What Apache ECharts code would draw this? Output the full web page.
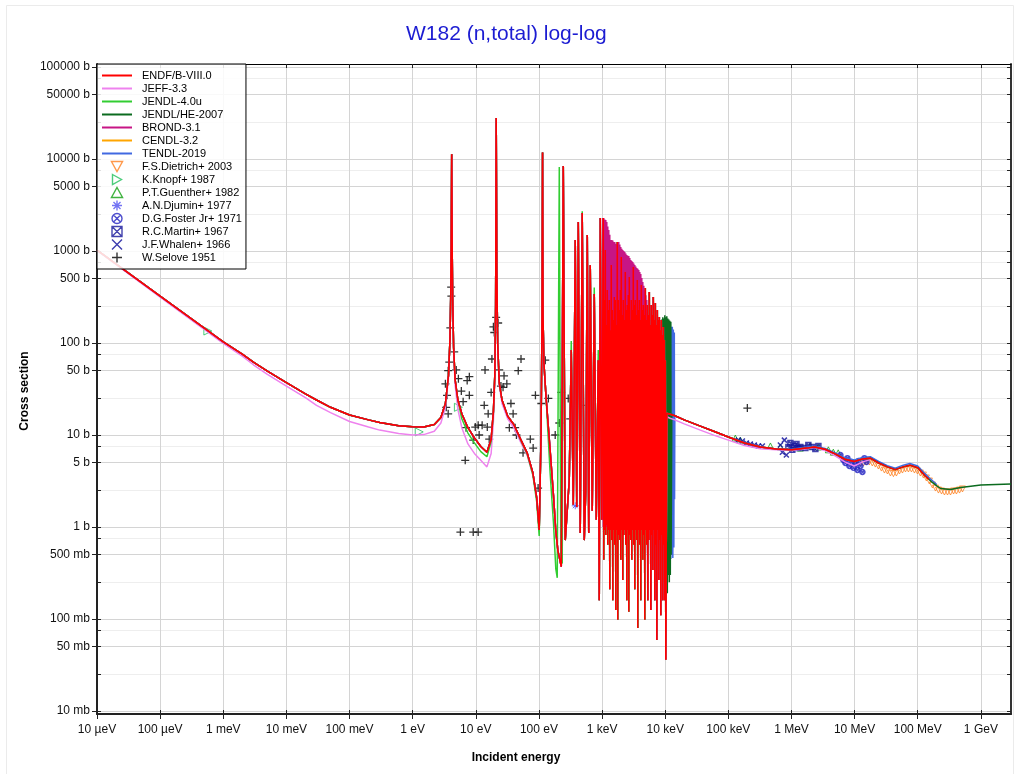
<!DOCTYPE html>
<html>
<head>
<meta charset="utf-8">
<title>W182 (n,total) log-log</title>
<script src="https://cdn.jsdelivr.net/npm/echarts@6.0.0/dist/echarts.min.js"></script>
<style>
  html, body { margin: 0; padding: 0; background: #fff; }
  #chart { width: 1020px; height: 774px; }
</style>
</head>
<body>
<div id="chart"></div>
<script>
// energies in eV, cross sections in barns

// tick labels
const xTickEnergy = [1e-5, 1e-4, 1e-3, 1e-2, 0.1, 1, 10, 100, 1e3, 1e4, 1e5, 1e6, 1e7, 1e8, 1e9];
const xTickText = ['10 µeV', '100 µeV', '1 meV', '10 meV', '100 meV', '1 eV', '10 eV', '100 eV',
    '1 keV', '10 keV', '100 keV', '1 MeV', '10 MeV', '100 MeV', '1 GeV'];
const yTickXS = [0.01, 0.05, 0.1, 0.5, 1, 5, 10, 50, 100, 500, 1000, 5000, 10000, 50000, 100000];
const yTickText = ['10 mb', '50 mb', '100 mb', '500 mb', '1 b', '5 b', '10 b', '50 b', '100 b',
    '500 b', '1000 b', '5000 b', '10000 b', '50000 b', '100000 b'];
const yMinorXS = [0.025, 0.075, 0.25, 0.75, 2.5, 7.5, 25, 75, 250, 750, 2500, 7500, 25000, 75000];

// thermal + first resolved resonances (shared energy grid)
const lowE = [1e-5, 1e-4, 1e-3, 0.002, 0.003, 0.005, 0.01, 0.02, 0.03, 0.05, 0.1, 0.2, 0.3, 0.6, 1, 1.5,
    2.2, 2.8, 3.3, 3.7, 3.9, 4.0, 4.08, 4.15, 4.22, 4.3, 4.45, 4.7, 5.2, 6, 7.5, 9.5, 12, 15, 17.5, 19,
    20, 20.6, 21.06, 21.5, 22.2, 23.5, 26, 32, 40, 52, 65, 80, 92, 101, 108, 112, 114.1, 116, 120, 130,
    150, 170, 185];
const lowEndf = [1025, 324, 103, 75.5, 62, 49.5, 37, 28, 24, 20, 16.5, 14.6, 13.7, 12.6, 12.3, 12.2,
    13, 15.5, 22, 45, 110, 300, 1200, 11300, 1200, 300, 90, 40, 24, 17, 12, 9.3, 7.5, 6.5, 9, 18,
    45, 250, 27900, 600, 100, 37, 24, 16, 13, 8.8, 6.4, 3.9, 2.1, 0.93, 10, 200, 11800, 200, 60, 25,
    7, 2.2, 0.9];
const lowJeff = [1010, 316, 99, 72, 58, 45.5, 34, 25.5, 21, 17.5, 14, 12.2, 11.3, 10.4, 10, 10.1,
    11, 13.5, 20, 42, 105, 290, 1200, 11000, 1200, 290, 85, 35, 19, 12, 8, 6.3, 5.3, 4.5, 6.3, 14,
    40, 240, 27500, 580, 95, 35, 22, 15, 12, 8.2, 6, 3.7, 2.1, 1.0, 10, 200, 11500, 200, 60, 25,
    7, 2.2, 0.9];
const lowJendl = [1025, 324, 103, 75.5, 62, 49.5, 37, 28, 24, 20, 16.5, 14.6, 13.7, 12.6, 12.3, 12.2,
    13, 15.5, 22, 45, 110, 300, 1200, 11300, 1200, 300, 90, 40, 24, 15, 10.5, 8.2, 6.6, 5.8, 8.5, 17,
    44, 250, 27900, 600, 100, 37, 24, 16, 13, 8.6, 6.2, 3.7, 1.9, 0.8, 10, 200, 11800, 200, 60, 25,
    4, 1.1, 0.35];

// resonance forest, [E, xs] pairs
const forestA = [[200, 0.55], [226, 0.37], [243, 8400], [261, 0.72], [302, 3.2], [325, 84], [350, 1.75],
    [376, 1320], [397, 1.65], [420, 2070], [451, 0.86], [485, 2590], [522, 0.72], [552, 2.5],
    [583, 1490], [615, 0.86], [650, 700], [699, 1.5], [752, 340], [809, 1.2], [870, 65], [903, 0.16]];
const forestAJendl = [[195, 0.28], [210, 8200], [222, 0.45], [234, 0.4], [243, 8400], [261, 0.72],
    [302, 3.2], [325, 105], [350, 1.75], [376, 1320], [397, 1.65], [420, 2070], [451, 0.86], [485, 2700],
    [522, 0.72], [552, 2.5], [583, 1490], [615, 0.86], [650, 700], [699, 1.5], [752, 400], [809, 1.2],
    [870, 84], [903, 0.16]];
const forestB = [[937, 2290], [989, 1.2],
    [1045, 2290], [1064, 0.44], [1083, 293], [1103, 0.93], [1124, 1026], [1145, 0.82],
    [1166, 157], [1187, 1.05], [1209, 377], [1231, 0.64], [1254, 228], [1277, 0.93],
    [1300, 293], [1324, 0.21], [1349, 138], [1374, 0.93], [1399, 704], [1425, 0.72],
    [1451, 228], [1478, 0.16], [1505, 178], [1533, 0.93], [1561, 316], [1590, 0.64],
    [1619, 293], [1649, 0.125], [1679, 157], [1710, 0.93], [1741, 1253], [1773, 0.098],
    [1806, 293], [1839, 0.82], [1873, 228], [1908, 0.72], [1943, 377], [1979, 0.44],
    [2015, 860], [2052, 0.93], [2090, 201], [2128, 0.265], [2168, 293], [2208, 0.82],
    [2248, 178], [2289, 0.93], [2332, 591], [2375, 0.64], [2419, 228], [2464, 0.16],
    [2508, 259], [2554, 0.93], [2602, 332], [2650, 0.12], [2698, 522], [2748, 0.82],
    [2799, 178], [2851, 0.72], [2903, 293], [2956, 0.44], [3011, 228], [3066, 0.93],
    [3122, 670], [3180, 0.64], [3238, 259], [3298, 0.21], [3359, 293], [3421, 0.93],
    [3484, 201], [3548, 0.72], [3613, 484], [3680, 0.08], [3748, 228], [3817, 0.93],
    [3887, 293], [3959, 0.64], [4031, 178], [4105, 0.16], [4181, 427], [4258, 0.93],
    [4337, 228], [4417, 0.44], [4498, 259], [4581, 0.82], [4665, 201], [4751, 0.098],
    [4838, 396], [4927, 0.93], [5018, 178], [5110, 0.64], [5205, 259], [5301, 0.16],
    [5398, 201], [5497, 0.72], [5599, 358], [5702, 0.93], [5807, 157], [5914, 0.125],
    [6023, 259], [6134, 0.82], [6247, 201], [6362, 0.34], [6479, 316], [6598, 0.93],
    [6720, 178], [6844, 0.16], [6970, 272], [7098, 0.64], [7229, 157], [7362, 0.059],
    [7498, 228], [7636, 0.93], [7776, 178], [7919, 0.265], [8065, 192], [8214, 0.72],
    [8365, 138], [8519, 0.11], [8676, 178], [8836, 0.82], [8999, 122], [9165, 0.16],
    [9334, 149], [9506, 0.64], [9681, 108], [9859, 0.16], [10040, 65], [10220, 0.036]];
const forestBrond = [[1026, 2290], [1045, 1.0], [1064, 2290], [1083, 1.0], [1103, 2200], [1124, 1.0],
    [1145, 2170], [1166, 1.0], [1187, 2070], [1209, 1.0], [1231, 1850], [1254, 1.0], [1277, 1690],
    [1300, 1.0], [1324, 1500], [1349, 1.0], [1374, 1318], [1399, 1.0], [1425, 1318], [1451, 1.0],
    [1478, 1300], [1505, 1.0], [1533, 1253], [1561, 1.0], [1590, 1253], [1619, 1.0], [1649, 1200],
    [1679, 1.0], [1710, 1190], [1741, 1.0], [1773, 1220], [1806, 1.0], [1839, 1253], [1873, 1.0],
    [1908, 1180], [1943, 1.0], [1979, 1105], [2015, 1.0], [2052, 1060], [2090, 1.0], [2128, 1026],
    [2168, 1.0], [2208, 1000], [2248, 1.0], [2289, 975], [2332, 1.0], [2375, 940], [2419, 1.0],
    [2464, 905], [2508, 1.0], [2554, 890], [2602, 1.0], [2650, 880], [2698, 1.0], [2748, 840],
    [2799, 1.0], [2851, 798], [2903, 1.0], [2956, 780], [3011, 1.0], [3066, 760], [3122, 1.0],
    [3180, 730], [3238, 1.0], [3298, 704], [3359, 1.0], [3421, 680], [3484, 1.0], [3548, 654],
    [3613, 1.0], [3680, 640], [3748, 1.0], [3817, 622], [3887, 1.0], [3959, 590], [4031, 1.0],
    [4105, 562], [4181, 1.0], [4258, 510], [4337, 1.0], [4417, 460], [4498, 1.0], [4581, 420],
    [4665, 1.0], [4751, 377], [4838, 1.0], [4927, 330], [5018, 1.0], [5110, 293], [5205, 1.0]];
const forestHe = [[8365, 0.3], [8519, 170], [8676, 0.4], [8836, 180], [8999, 0.3], [9165, 190],
    [9334, 0.25], [9506, 185], [9681, 0.3], [9859, 200], [10040, 0.35], [10220, 190], [10410, 0.25],
    [10600, 195], [10800, 0.19], [11000, 185], [11200, 0.3], [11410, 180], [11620, 0.25], [11830, 175],
    [12050, 0.3], [12270, 170], [12400, 0.5], [12700, 16.8]];
const forestTendl = [[10040, 0.5], [10410, 160], [10800, 0.3], [11200, 170], [11620, 0.4], [12050, 160],
    [12270, 0.45], [12500, 150], [12730, 0.5], [12960, 150], [13200, 0.46], [13440, 140], [13700, 0.6],
    [13940, 130], [14070, 2], [14200, 16.2]];

// fast region (shared energy grid)
const highE = [10600, 12000, 14200, 20000, 36000, 60000, 1e5, 1.8e5, 3.2e5, 5.7e5, 1e6, 1.75e6, 2.3e6,
    3.4e6, 5e6, 7e6, 9.9e6, 1.34e7, 1.77e7, 2.4e7, 3.3e7, 4.4e7, 5.9e7, 7.5e7, 1e8, 1.3e8, 1.5e8,
    1.7e8, 2e8, 2.3e8, 3.3e8, 4.8e8, 1e9, 3e9];
const highXS = [17.3, 16.8, 16.2, 14.6, 12.5, 10.9, 9.5, 8.2, 7.4, 7.05, 6.9, 7.2, 7.4, 7.0, 6.2, 5.45,
    5.15, 5.5, 5.6, 4.96, 4.5, 4.2, 4.5, 4.7, 4.4, 3.6, 3.3, 3.05, 2.8, 2.62, 2.55, 2.68, 2.86, 2.93];
const highJeff = [15.8, 15.2, 14.6, 13.2, 11.3, 9.9, 8.8, 7.7, 7.1, 6.9, 6.8, 7.1, 7.3, 6.8, 5.9, 5.1,
    4.6, 5.1, 5.4];
const highTendl = [17.3, 16.8, 16.2, 14.6, 12.5, 10.9, 9.5, 8.2, 7.4, 7.05, 7.0, 7.4, 7.6, 7.15, 6.35,
    5.65, 5.35, 5.7, 5.8, 5.15, 4.65, 4.35, 4.7, 4.9, 4.6, 3.8, 3.45, 3.2, 2.9];

// experimental points [E, xs]
const dietrich = [[12.4e6, 4.96], [13.8e6, 4.96], [15.4e6, 5.1], [17.1e6, 5.1], [19.1e6, 4.96],
    [21.3e6, 4.83], [23.8e6, 4.6], [26.6e6, 4.37], [29.7e6, 4.16], [33.1e6, 4.06], [36.9e6, 3.86],
    [41.2e6, 3.8], [45.9e6, 3.86], [51.3e6, 4.06], [57.2e6, 4.16], [63.9e6, 4.27], [71.2e6, 4.27],
    [79.5e6, 4.27], [88.7e6, 4.16], [99e6, 4.06], [110e6, 3.86], [123e6, 3.67], [137e6, 3.41],
    [153e6, 3.16], [171e6, 2.86], [191e6, 2.65], [213e6, 2.52], [238e6, 2.46], [265e6, 2.4],
    [296e6, 2.4], [330e6, 2.4], [369e6, 2.46], [410e6, 2.46], [459e6, 2.52], [511e6, 2.59]];
const knopf = [[5.7e-4, 135], [1.27, 10.8], [5.3, 20]];
const guenther = [[1.29e5, 9.25], [1.55e5, 8.8], [4.64e5, 7.6], [6.67e5, 7.4], [1.38e6, 7.2],
    [2.0e6, 7.6], [2.67e6, 7.4], [3.84e6, 6.9], [4.6e6, 6.5], [5.5e6, 6.4]];
const djumin = [[376, 1.7]];
const foster = [[5.96e6, 6.06], [6.64e6, 5.35], [7.15e6, 4.96], [7.69e6, 5.6], [8.27e6, 4.6], [8.9e6, 5.1],
    [9.57e6, 4.4], [10.3e6, 4.83], [11.1e6, 4.16], [11.5e6, 5.2], [12.4e6, 4.6], [13.3e6, 3.96],
    [14.3e6, 5.6], [15.4e6, 5.1]];
const martin = [[8.93e5, 7.4], [9.61e5, 8.2], [1.03e6, 6.9], [1.11e6, 7.6], [1.2e6, 8.0], [1.29e6, 7.2],
    [1.38e6, 7.4], [1.66e6, 7.2], [1.85e6, 7.8], [2.14e6, 7.4], [2.39e6, 7.05], [2.67e6, 7.6]];
const whalen = [[1.44e5, 8.8], [1.67e5, 8.6], [1.93e5, 8.18], [2.23e5, 8.0], [2.58e5, 7.8], [2.99e5, 7.6],
    [3.46e5, 7.6], [6.67e5, 7.8], [7.18e5, 6.5], [7.72e5, 8.8], [8.3e5, 6.06]];
const selove = [[4.07, 406], [4.1, 324], [3.95, 146], [4.55, 80], [3.8, 62], [3.65, 50], [4.9, 51],
    [3.3, 36], [5.3, 41], [7.9, 43], [7.3, 39], [5.9, 30], [7.9, 27], [3.5, 27], [6.3, 23], [3.4, 20],
    [3.65, 17], [14, 51], [18, 67], [13.6, 21], [17.5, 29], [15.7, 17], [7.0, 12], [9.8, 12.2],
    [10.9, 12.8], [12.6, 12.8], [15.2, 12.2], [11.3, 10], [9.1, 8.8], [16.3, 9.0], [6.8, 5.3],
    [5.7, 0.88], [9.1, 0.88], [10.9, 0.88], [21, 190], [19, 150], [22.6, 165], [19.6, 130], [23.5, 51],
    [28, 44], [25, 34], [27, 33], [31, 36], [36, 22], [39, 17], [52, 67], [47, 50], [34, 12], [42, 12],
    [44, 10], [73, 9], [81, 7.2], [56, 6.4], [88, 27], [109, 22], [141, 25], [126, 65], [210, 13.5],
    [181, 10], [226, 29], [291, 25], [97, 2.65], [504, 21], [627, 20.6], [313, 15], [2.0e5, 19.6]];

const FONT = '"Liberation Sans", Arial, sans-serif';
const LINE_ICON = 'path://M0,0 L30,0 L30,2 L0,2 Z';

const pair = (E, XS) => XS.map((s, i) => [E[i], s]);
const above = (pts, e) => pts.filter(p => p[0] > e);
const upTo = (pts, e) => pts.filter(p => p[0] <= e);
const below = (pts, e) => pts.filter(p => p[0] < e);
const toLog = pts => pts.map(p => [Math.log10(p[0]), Math.log10(p[1])]);

const fast = pair(highE, highXS);

const libraries = [
    // drawn bottom to top
    { name: 'CENDL-3.2', color: '#ffa500',
      data: [...pair(lowE, lowEndf), ...forestA, ...forestB, ...upTo(above(fast, 10220), 2e7)] },
    { name: 'TENDL-2019', color: '#4169e1',
      data: [...pair(lowE, lowEndf), ...forestA, ...below(forestB, 10040), ...forestTendl,
             ...above(pair(highE, highTendl), 14200)] },
    { name: 'JENDL/HE-2007', color: '#0b6b1f',
      data: [...pair(lowE, lowEndf), ...forestA, ...below(forestB, 8365), ...forestHe, ...above(fast, 12700)] },
    { name: 'JEFF-3.3', color: '#ee82ee',
      data: [...pair(lowE, lowJeff), ...forestA, ...forestB, ...above(pair(highE, highJeff), 10220)] },
    { name: 'JENDL-4.0u', color: '#32cd32',
      data: [...pair(lowE, lowJendl), ...forestAJendl, ...forestB, ...upTo(above(fast, 10220), 2e7)] },
    { name: 'BROND-3.1', color: '#c71585',
      data: [...pair(lowE, lowEndf), ...forestA, ...below(forestB, 1000), ...forestBrond,
             ...above(forestB, 5205), ...upTo(above(fast, 10220), 2e7)] },
    { name: 'ENDF/B-VIII.0', color: '#ff0000',
      data: [...pair(lowE, lowEndf), ...forestA, ...forestB, ...upTo(above(fast, 10220), 1.5e8)] }
];

const experiments = [
    { name: 'F.S.Dietrich+ 2003', color: '#ff7f1e', size: 6, width: 1, data: dietrich,
      symbol: 'path://M0,0 L10,0 L5,9 Z' },
    { name: 'K.Knopf+ 1987', color: '#1fbf5a', size: 8, width: 1, data: knopf,
      symbol: 'path://M0,0 L9,5 L0,10 Z' },
    { name: 'P.T.Guenther+ 1982', color: '#10a010', size: 6, width: 1, data: guenther,
      symbol: 'path://M5,0 L10,9 L0,9 Z' },
    { name: 'A.N.Djumin+ 1977', color: '#5050f0', size: 7, width: 1, data: djumin,
      symbol: 'path://M5,0 L5,10 M0,5 L10,5 M1.5,1.5 L8.5,8.5 M8.5,1.5 L1.5,8.5' },
    { name: 'D.G.Foster Jr+ 1971', color: '#2020c0', size: 5, width: 1.5, data: foster,
      symbol: 'path://M10,5 A5,5 0 1 1 0,5 A5,5 0 1 1 10,5 Z M1.5,1.5 L8.5,8.5 M8.5,1.5 L1.5,8.5' },
    { name: 'R.C.Martin+ 1967', color: '#14149a', size: 5, width: 1.5, data: martin,
      symbol: 'path://M0,0 L10,0 L10,10 L0,10 Z M0,0 L10,10 M10,0 L0,10' },
    { name: 'J.F.Whalen+ 1966', color: '#0a0a9a', size: 5, width: 1.5, data: whalen,
      symbol: 'path://M0,0 L10,10 M10,0 L0,10' },
    { name: 'W.Selove 1951', color: '#000000', size: 8, width: 1.3, data: selove,
      symbol: 'path://M5,0 L5,10 M0,5 L10,5' }
];

const legendItems = [
    ...['ENDF/B-VIII.0', 'JEFF-3.3', 'JENDL-4.0u', 'JENDL/HE-2007', 'BROND-3.1', 'CENDL-3.2', 'TENDL-2019']
        .map(name => ({ name: name, icon: LINE_ICON })),
    ...experiments.map(e => ({
        name: e.name,
        itemStyle: { color: 'rgba(0,0,0,0)', borderColor: e.color, borderWidth: 1.4 }
    }))
];

const xTickLog = xTickEnergy.map(Math.log10);
const yTickLog = yTickXS.map(Math.log10);
const yMinorLog = yMinorXS.map(Math.log10);
const yAllLog = yTickLog.concat(yMinorLog);

function labeler(logs, texts) {
    return v => {
        const i = logs.findIndex(l => Math.abs(l - v) < 1e-6);
        return i < 0 ? '' : texts[i];
    };
}

const xMin = -5, xMax = Math.log10(3e9);
const yMin = -2.033, yMax = 5.033;

const chart = echarts.init(document.getElementById('chart'));

const hidden = { show: false };
const baseX = { type: 'value', min: xMin, max: xMax, gridIndex: 0 };
const baseY = { type: 'value', min: yMin, max: yMax, gridIndex: 0 };

const option = {
    animation: false,
    backgroundColor: '#ffffff',
    title: {
        text: 'W182 (n,total) log-log',
        left: 401, top: 19,
        textStyle: { color: '#1c1cd2', fontSize: 21, fontWeight: 'normal', fontFamily: FONT }
    },
    grid: { left: 97, right: 9, top: 64, bottom: 60, containLabel: false },
    legend: {
        data: legendItems,
        orient: 'vertical',
        left: 97, top: 64,
        padding: [5, 4, 5, 5],
        itemGap: 0,
        itemWidth: 30,
        itemHeight: 10,
        selectedMode: false,
        backgroundColor: 'rgba(255,255,255,0.85)',
        borderColor: '#000',
        borderWidth: 1,
        borderRadius: 0,
        textStyle: { fontSize: 11, lineHeight: 13, color: '#000', fontFamily: FONT, padding: [0, 0, 0, 5] }
    },
    xAxis: [
        Object.assign({}, baseX, {
            position: 'bottom',
            axisLine: { show: true, onZero: false, lineStyle: { color: '#222', width: 2 } },
            axisTick: { show: true, inside: false, length: 5, customValues: xTickLog, lineStyle: { color: '#222' } },
            axisLabel: { show: true, customValues: xTickLog, formatter: labeler(xTickLog, xTickText),
                fontSize: 12, color: '#111', margin: 10, fontFamily: FONT },
            splitLine: { show: true, lineStyle: { color: '#d4d4d4', width: 1 } }
        }),
        Object.assign({}, baseX, {
            position: 'bottom',
            axisLine: { show: false, onZero: false },
            axisTick: { show: true, inside: true, length: 4, customValues: xTickLog, lineStyle: { color: '#222' } },
            axisLabel: hidden, splitLine: hidden
        }),
        Object.assign({}, baseX, {
            position: 'top',
            axisLine: { show: true, onZero: false, lineStyle: { color: '#000', width: 1 } },
            axisTick: { show: true, inside: true, length: 4, customValues: xTickLog, lineStyle: { color: '#222' } },
            axisLabel: hidden, splitLine: hidden
        })
    ],
    yAxis: [
        Object.assign({}, baseY, {
            position: 'left',
            axisLine: { show: true, onZero: false, lineStyle: { color: '#222', width: 2 } },
            axisTick: { show: true, inside: false, length: 5, customValues: yTickLog, lineStyle: { color: '#222' } },
            axisLabel: { show: true, customValues: yTickLog, formatter: labeler(yTickLog, yTickText),
                fontSize: 12, color: '#111', margin: 7, fontFamily: FONT },
            splitLine: { show: true, lineStyle: { color: '#d4d4d4', width: 1 } }
        }),
        Object.assign({}, baseY, {
            position: 'left',
            axisLine: { show: false, onZero: false },
            axisTick: { show: true, inside: true, length: 4, customValues: yAllLog, lineStyle: { color: '#222' } },
            axisLabel: hidden, splitLine: hidden
        }),
        Object.assign({}, baseY, {
            position: 'right',
            axisLine: { show: true, onZero: false, lineStyle: { color: '#333', width: 2 } },
            axisTick: { show: true, inside: true, length: 4, customValues: yAllLog, lineStyle: { color: '#222' } },
            axisLabel: hidden, splitLine: hidden
        }),
        Object.assign({}, baseY, {
            position: 'left',
            axisLine: { show: false, onZero: false },
            axisTick: { show: false, customValues: yMinorLog },
            axisLabel: hidden,
            splitLine: { show: true, lineStyle: { color: '#eeeeee', width: 1 } }
        })
    ],
    graphic: [
        { type: 'rect', shape: { x: 6.5, y: 5.5, width: 1007, height: 780 },
          style: { fill: 'none', stroke: '#ebebeb', lineWidth: 1 }, silent: true },
        { type: 'text', x: 516, y: 758,
          style: { text: 'Incident energy', align: 'center', verticalAlign: 'middle',
                   font: 'bold 12px "Liberation Sans", Arial, sans-serif', fill: '#000' } },
        { type: 'text', x: 25, y: 391, rotation: Math.PI / 2,
          style: { text: 'Cross section', align: 'center', verticalAlign: 'middle',
                   font: 'bold 12px "Liberation Sans", Arial, sans-serif', fill: '#000' } }
    ],
    series: [
        ...libraries.map(lib => ({
            name: lib.name,
            type: 'line',
            xAxisIndex: 0, yAxisIndex: 0,
            data: toLog(lib.data),
            symbol: 'none',
            showSymbol: false,
            silent: true,
            lineStyle: { color: lib.color, width: 1.5 },
            itemStyle: { color: lib.color }
        })),
        ...experiments.map(ex => ({
            name: ex.name,
            type: 'scatter',
            xAxisIndex: 0, yAxisIndex: 0,
            data: toLog(ex.data),
            symbol: ex.symbol,
            symbolSize: ex.size,
            silent: true,
            itemStyle: { color: 'rgba(0,0,0,0)', borderColor: ex.color, borderWidth: ex.width }
        }))
    ]
};

chart.setOption(option);
</script>
</body>
</html>
